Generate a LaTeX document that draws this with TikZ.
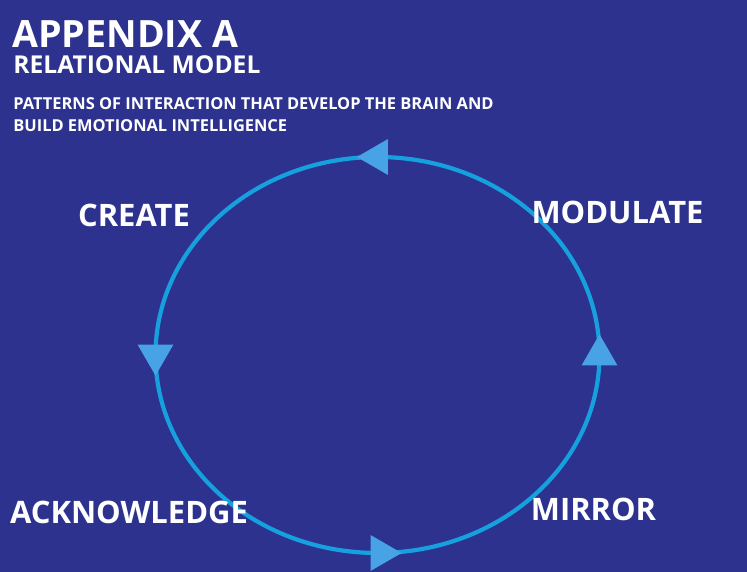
\documentclass[tikz,border=0pt]{standalone}
\usepackage{fontspec}
\setmainfont{Open Sans}
\usetikzlibrary{shapes.geometric}
\definecolor{bgblue}{RGB}{44,50,142}
\definecolor{ringblue}{RGB}{22,160,222}
\definecolor{tipblue}{RGB}{72,162,230}
\begin{document}
\begin{tikzpicture}[
        tip/.style = {isosceles triangle, isosceles triangle apex angle=60,
                      fill=tipblue, inner sep=0pt, minimum height=0.62cm},
        phase/.style = {text=white, font=\fontsize{17.6}{20}\selectfont\bfseries},
                                ]
        % background
        \fill[bgblue] (0,0) rectangle (14.94,11.44);
        \useasboundingbox (0,0) rectangle (14.94,11.44);
        % titles
        \node[anchor=base west, text=white, inner sep=0pt,
              font=\fontsize{21.4}{24}\selectfont\bfseries] (title) at (0.24,10.48) {APPENDIX A};
        \node[anchor=base west, text=white, inner sep=0pt,
              font=\fontsize{14}{16}\selectfont\bfseries] (sub) at (0.26,9.96) {RELATIONAL MODEL};
        \node[anchor=north west, text=white, inner sep=0pt, align=left,
              font=\fontsize{9.35}{12.6}\selectfont\bfseries] (desc) at (0.26,9.5)
              {PATTERNS OF INTERACTION THAT DEVELOP THE BRAIN AND\\BUILD EMOTIONAL INTELLIGENCE};
        % cycle
        \draw[ringblue, line width=2.4pt] (7.55,4.34) ellipse (4.44cm and 3.96cm);
        \node[tip, shape border rotate=180] (t1) at (7.55,8.30) {};
        \node[tip, shape border rotate=270] (t2) at (3.11,4.34) {};
        \node[tip, shape border rotate=0]   (t3) at (7.62,0.38) {};
        \node[tip, shape border rotate=90]  (t4) at (11.99,4.34) {};
        % phases
        \node[phase] (create)   at (2.68,7.13) {CREATE};
        \node[phase] (modulate) at (12.35,7.20) {MODULATE};
        \node[phase] (ack)      at (2.58,1.20) {ACKNOWLEDGE};
        \node[phase] (mirror)   at (11.87,1.26) {MIRROR};
    \end{tikzpicture}
\end{document}
